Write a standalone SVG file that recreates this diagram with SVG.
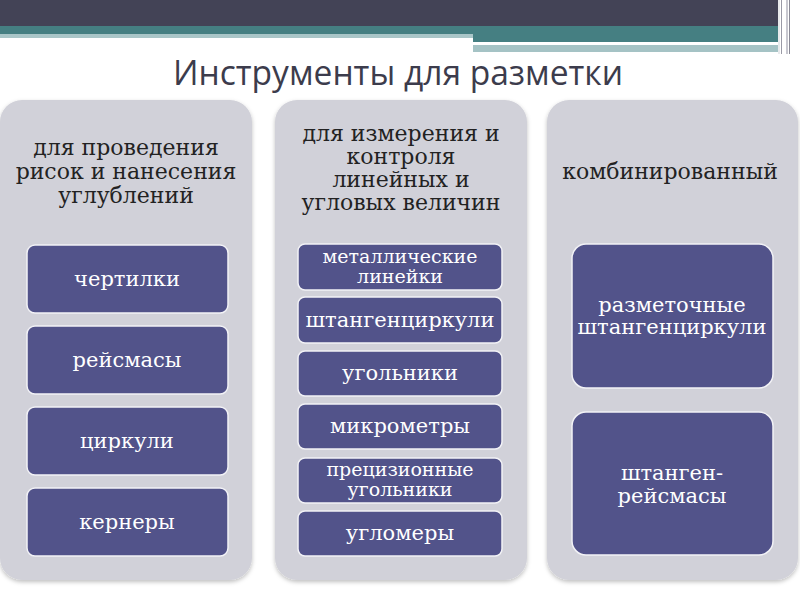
<svg xmlns="http://www.w3.org/2000/svg" width="800" height="600" viewBox="0 0 800 600">
<defs>
<filter id="sh" x="-5%" y="-5%" width="110%" height="110%">
<feDropShadow dx="0" dy="2" stdDeviation="2" flood-color="#000" flood-opacity="0.25"/>
</filter>
</defs>
<style>
.col{fill:#d1d1d9;filter:url(#sh)}
.box{fill:#52538a;stroke:#f2f2f6;stroke-width:1.5}
.hd{font-size:22px;fill:#222;text-anchor:middle}
.bt{font-size:21px;fill:#fff;text-anchor:middle}
.bs{font-size:19px;fill:#fff;text-anchor:middle}
.title{font-size:34px;fill:#3c3c4c;text-anchor:middle}
</style>
<rect width="800" height="600" fill="#fff"/>
<g id="header-band">
<rect x="0" y="0" width="778" height="26" fill="#434356"/>
<rect x="0" y="26" width="473" height="8" fill="#457f82"/>
<rect x="0" y="34" width="473" height="4" fill="#a9c6c8"/>
<rect x="473" y="26" width="305" height="16" fill="#457f82"/>
<rect x="473" y="42" width="268" height="2" fill="#ffffff"/>
<rect x="473" y="45" width="305" height="7" fill="#a5c3c5"/>
<rect x="778" y="0" width="2" height="54" fill="#e8eaec"/>
<rect x="781" y="0" width="1" height="54" fill="#9a9aa6"/>
<rect x="786" y="0" width="2" height="54" fill="#c8c8d0"/>
<rect x="789" y="0" width="1" height="54" fill="#8a8a96"/>
</g>
<text class="title" font-family="'Open Sans', 'Liberation Sans', sans-serif" x="398" y="85" textLength="450" lengthAdjust="spacingAndGlyphs">Инструменты для разметки</text>

<g font-family="'DejaVu Serif', 'Liberation Serif', serif">
<g id="col1">
<rect class="col" x="0" y="100" width="252" height="480" rx="22"/>
<text class="hd" x="126"><tspan x="126" y="155">для проведения</tspan><tspan x="126" y="179">рисок и нанесения</tspan><tspan x="126" y="203">углублений</tspan></text>
</g>
<g id="col2">
<rect class="col" x="275" y="100" width="252" height="480" rx="22"/>
<text class="hd" x="401"><tspan x="401" y="141">для измерения и</tspan><tspan x="401" y="164">контроля</tspan><tspan x="401" y="187">линейных и</tspan><tspan x="401" y="210">угловых величин</tspan></text>
</g>
<g id="col3">
<rect class="col" x="547" y="100" width="251" height="480" rx="22"/>
<text class="hd" x="670" y="179">комбинированный</text>
</g>

<g id="n-chertilki"><rect class="box" x="27" y="245" width="201" height="68" rx="8"/><text class="bt" x="127" y="286">чертилки</text></g>
<g id="n-reismasy"><rect class="box" x="27" y="326" width="201" height="68" rx="8"/><text class="bt" x="127" y="367">рейсмасы</text></g>
<g id="n-cirkuli"><rect class="box" x="27" y="407" width="201" height="68" rx="8"/><text class="bt" x="127" y="448">циркули</text></g>
<g id="n-kernery"><rect class="box" x="27" y="488" width="201" height="68" rx="8"/><text class="bt" x="127" y="529">кернеры</text></g>

<g id="n-lineiki"><rect class="box" x="298" y="244" width="204" height="46" rx="7"/><text class="bs" x="400"><tspan x="400" y="263">металлические</tspan><tspan x="400" y="283">линейки</tspan></text></g>
<g id="n-shtangen"><rect class="box" x="298" y="297" width="204" height="46" rx="7"/><text class="bt" x="400" y="327">штангенциркули</text></g>
<g id="n-ugolniki"><rect class="box" x="298" y="351" width="204" height="45" rx="7"/><text class="bt" x="400" y="380">угольники</text></g>
<g id="n-mikrometry"><rect class="box" x="298" y="404" width="204" height="45" rx="7"/><text class="bt" x="400" y="433">микрометры</text></g>
<g id="n-precizionnye"><rect class="box" x="298" y="458" width="204" height="45" rx="7"/><text class="bs" x="400"><tspan x="400" y="476">прецизионные</tspan><tspan x="400" y="496">угольники</tspan></text></g>
<g id="n-uglomery"><rect class="box" x="298" y="511" width="204" height="45" rx="7"/><text class="bt" x="400" y="540">угломеры</text></g>

<g id="n-razmetochnye"><rect class="box" x="572" y="244" width="201" height="144" rx="14"/><text class="bt" x="672"><tspan x="672" y="312">разметочные</tspan><tspan x="672" y="334">штангенциркули</tspan></text></g>
<g id="n-shtangenreismasy"><rect class="box" x="572" y="412" width="201" height="143" rx="14"/><text class="bt" x="672"><tspan x="672" y="480">штанген-</tspan><tspan x="672" y="503">рейсмасы</tspan></text></g>
</g>
<g id="connectors"/>
</svg>
